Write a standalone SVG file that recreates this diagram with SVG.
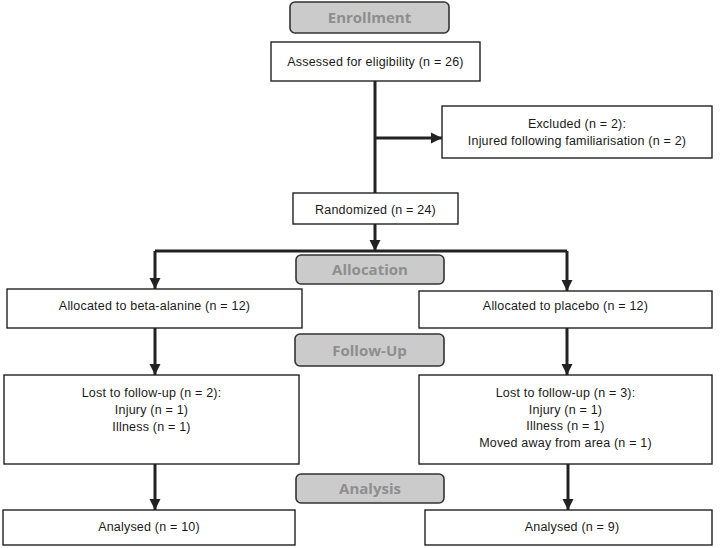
<svg xmlns="http://www.w3.org/2000/svg" width="720" height="548" viewBox="0 0 720 548">
<style>
.box{fill:#fff;stroke:#222;stroke-width:1.4}
.lab{fill:#cbcbcb;stroke:#333;stroke-width:1.6}
.t{font-family:"Liberation Sans",Arial,sans-serif;font-size:12.5px;letter-spacing:0.2px;fill:#1a1a1a;text-anchor:middle}
.lt{font-family:"Open Sans","Liberation Sans",sans-serif;font-size:15px;font-weight:bold;fill:#8e8e8e;text-anchor:middle}
.c{fill:none;stroke:#222;stroke-width:3}
</style>
<defs>
<marker id="ah" markerUnits="userSpaceOnUse" markerWidth="12" markerHeight="12" viewBox="0 0 12 12" refX="11" refY="6" orient="auto">
<path d="M0,0.5 L11,6 L0,11.5 Z" fill="#222"/>
</marker>
</defs>
<g id="connectors">
<path class="c" d="M375,81 V193"/>
<path class="c" d="M375,138 H442" marker-end="url(#ah)"/>
<path class="c" d="M375,224 V251" marker-end="url(#ah)"/>
<path class="c" d="M155,251 H567"/>
<path class="c" d="M155,251 V289" marker-end="url(#ah)"/>
<path class="c" d="M567,251 V291" marker-end="url(#ah)"/>
<path class="c" d="M155,328 V375" marker-end="url(#ah)"/>
<path class="c" d="M567,328 V375" marker-end="url(#ah)"/>
<path class="c" d="M155,464 V510" marker-end="url(#ah)"/>
<path class="c" d="M568,464 V510" marker-end="url(#ah)"/>
</g>
<g id="enrollment"><rect class="lab" x="290" y="2" width="159" height="31" rx="5"/><text class="lt" x="369.5" y="23">Enrollment</text></g>
<g id="assessed"><rect class="box" x="271" y="42" width="209" height="39"/><text class="t" x="375.5" y="65.5">Assessed for eligibility (n = 26)</text></g>
<g id="excluded"><rect class="box" x="442" y="106" width="270" height="52"/><text class="t" x="577" y="128">Excluded (n = 2):</text><text class="t" x="577" y="145">Injured following familiarisation (n = 2)</text></g>
<g id="randomized"><rect class="box" x="293" y="193" width="165" height="31"/><text class="t" x="375.5" y="214">Randomized (n = 24)</text></g>
<g id="allocation"><rect class="lab" x="296" y="255" width="148" height="29" rx="5"/><text class="lt" x="370" y="275">Allocation</text></g>
<g id="beta"><rect class="box" x="7" y="289" width="295" height="39"/><text class="t" x="154.5" y="310">Allocated to beta-alanine (n = 12)</text></g>
<g id="placebo"><rect class="box" x="419" y="291" width="293" height="37"/><text class="t" x="565.5" y="310">Allocated to placebo (n = 12)</text></g>
<g id="followup"><rect class="lab" x="295" y="334" width="149" height="32" rx="5"/><text class="lt" x="369.5" y="355.5">Follow-Up</text></g>
<g id="lost-left"><rect class="box" x="4" y="375" width="295" height="89"/><text class="t" x="151.5" y="397">Lost to follow-up (n = 2):</text><text class="t" x="151.5" y="414">Injury (n = 1)</text><text class="t" x="151.5" y="431">Illness (n = 1)</text></g>
<g id="lost-right"><rect class="box" x="419" y="375" width="293" height="89"/><text class="t" x="565.5" y="397">Lost to follow-up (n = 3):</text><text class="t" x="565.5" y="413.5">Injury (n = 1)</text><text class="t" x="565.5" y="430">Illness (n = 1)</text><text class="t" x="565.5" y="446.5">Moved away from area (n = 1)</text></g>
<g id="analysis"><rect class="lab" x="296" y="474" width="148" height="29" rx="5"/><text class="lt" x="370" y="494">Analysis</text></g>
<g id="analysed-left"><rect class="box" x="3" y="510" width="292" height="35"/><text class="t" x="149" y="531">Analysed (n = 10)</text></g>
<g id="analysed-right"><rect class="box" x="425" y="510" width="287" height="35"/><text class="t" x="572" y="531">Analysed (n = 9)</text></g>
</svg>
